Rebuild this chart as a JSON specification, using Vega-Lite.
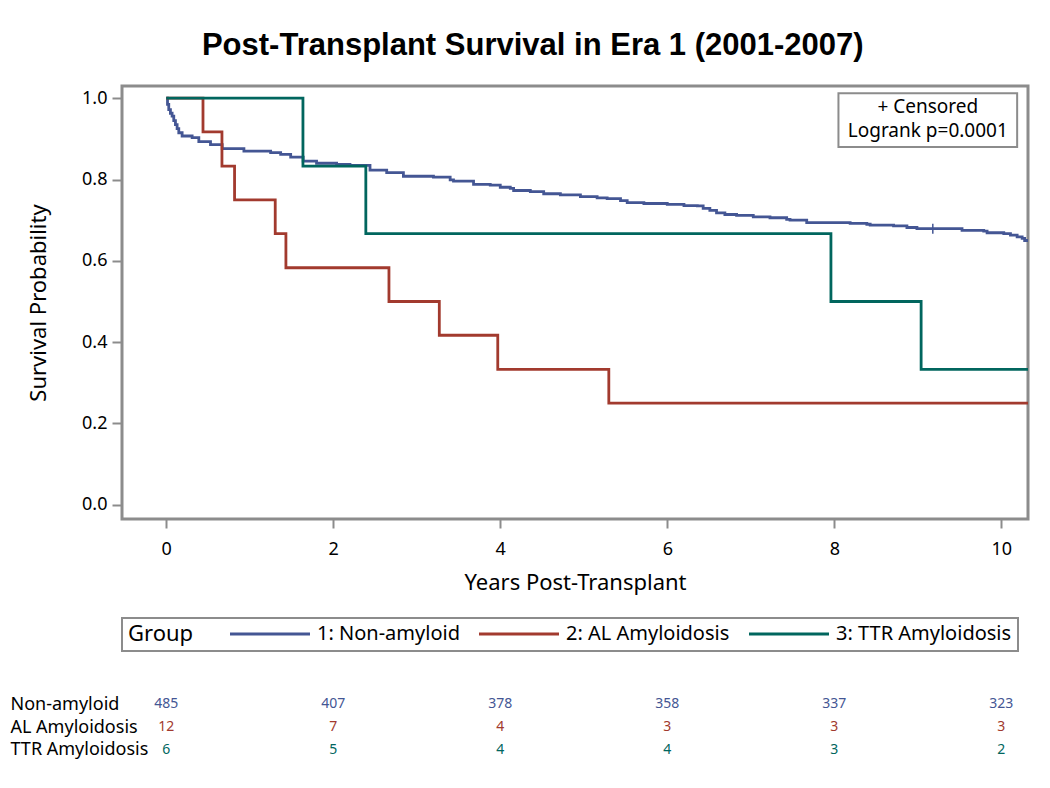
{
  "$schema": "https://vega.github.io/schema/vega-lite/v6.json",
  "padding": {"left": 10, "top": 29, "right": 5, "bottom": 5},
  "background": "white",
  "title": {"text": "Post-Transplant Survival in Era 1 (2001-2007)", "font": "Liberation Sans", "fontSize": 31, "fontWeight": "bold", "color": "black", "anchor": "middle", "offset": 23, "dx": 13},
  "config": {
    "font": "Noto Sans",
    "view": {"stroke": "#8c8c8c", "strokeWidth": 3},
    "axis": {"grid": false, "domain": false, "tickColor": "#8c8c8c", "tickWidth": 2, "labelColor": "black", "titleColor": "black", "titleFontWeight": "normal", "labelFont": "Noto Sans", "titleFont": "Noto Sans"},
    "legend": {"strokeWidth": 2}
  },
  "datasets": {
    "km": [
      {"g": "1: Non-amyloid", "t": 0, "s": 1.0},
      {"g": "1: Non-amyloid", "t": 0.015, "s": 0.985},
      {"g": "1: Non-amyloid", "t": 0.03, "s": 0.972},
      {"g": "1: Non-amyloid", "t": 0.05, "s": 0.963},
      {"g": "1: Non-amyloid", "t": 0.07, "s": 0.956},
      {"g": "1: Non-amyloid", "t": 0.09, "s": 0.945},
      {"g": "1: Non-amyloid", "t": 0.11, "s": 0.935},
      {"g": "1: Non-amyloid", "t": 0.13, "s": 0.925},
      {"g": "1: Non-amyloid", "t": 0.15, "s": 0.915},
      {"g": "1: Non-amyloid", "t": 0.19, "s": 0.907},
      {"g": "1: Non-amyloid", "t": 0.31, "s": 0.903},
      {"g": "1: Non-amyloid", "t": 0.39, "s": 0.893},
      {"g": "1: Non-amyloid", "t": 0.53, "s": 0.886},
      {"g": "1: Non-amyloid", "t": 0.67, "s": 0.876},
      {"g": "1: Non-amyloid", "t": 0.93, "s": 0.870},
      {"g": "1: Non-amyloid", "t": 1.25, "s": 0.866},
      {"g": "1: Non-amyloid", "t": 1.37, "s": 0.862},
      {"g": "1: Non-amyloid", "t": 1.49, "s": 0.855},
      {"g": "1: Non-amyloid", "t": 1.64, "s": 0.845},
      {"g": "1: Non-amyloid", "t": 1.80, "s": 0.840},
      {"g": "1: Non-amyloid", "t": 2.04, "s": 0.837},
      {"g": "1: Non-amyloid", "t": 2.20, "s": 0.835},
      {"g": "1: Non-amyloid", "t": 2.44, "s": 0.823},
      {"g": "1: Non-amyloid", "t": 2.64, "s": 0.817},
      {"g": "1: Non-amyloid", "t": 2.84, "s": 0.808},
      {"g": "1: Non-amyloid", "t": 3.20, "s": 0.806},
      {"g": "1: Non-amyloid", "t": 3.40, "s": 0.799},
      {"g": "1: Non-amyloid", "t": 3.44, "s": 0.796},
      {"g": "1: Non-amyloid", "t": 3.68, "s": 0.788},
      {"g": "1: Non-amyloid", "t": 3.88, "s": 0.786},
      {"g": "1: Non-amyloid", "t": 4.00, "s": 0.781},
      {"g": "1: Non-amyloid", "t": 4.12, "s": 0.778},
      {"g": "1: Non-amyloid", "t": 4.16, "s": 0.773},
      {"g": "1: Non-amyloid", "t": 4.36, "s": 0.770},
      {"g": "1: Non-amyloid", "t": 4.52, "s": 0.765},
      {"g": "1: Non-amyloid", "t": 4.72, "s": 0.762},
      {"g": "1: Non-amyloid", "t": 4.96, "s": 0.758},
      {"g": "1: Non-amyloid", "t": 5.16, "s": 0.755},
      {"g": "1: Non-amyloid", "t": 5.28, "s": 0.753},
      {"g": "1: Non-amyloid", "t": 5.44, "s": 0.748},
      {"g": "1: Non-amyloid", "t": 5.52, "s": 0.743},
      {"g": "1: Non-amyloid", "t": 5.72, "s": 0.741},
      {"g": "1: Non-amyloid", "t": 6.00, "s": 0.739},
      {"g": "1: Non-amyloid", "t": 6.20, "s": 0.736},
      {"g": "1: Non-amyloid", "t": 6.36, "s": 0.735},
      {"g": "1: Non-amyloid", "t": 6.43, "s": 0.729},
      {"g": "1: Non-amyloid", "t": 6.51, "s": 0.724},
      {"g": "1: Non-amyloid", "t": 6.59, "s": 0.718},
      {"g": "1: Non-amyloid", "t": 6.69, "s": 0.714},
      {"g": "1: Non-amyloid", "t": 6.83, "s": 0.712},
      {"g": "1: Non-amyloid", "t": 7.03, "s": 0.708},
      {"g": "1: Non-amyloid", "t": 7.23, "s": 0.706},
      {"g": "1: Non-amyloid", "t": 7.43, "s": 0.702},
      {"g": "1: Non-amyloid", "t": 7.47, "s": 0.700},
      {"g": "1: Non-amyloid", "t": 7.67, "s": 0.694},
      {"g": "1: Non-amyloid", "t": 8.19, "s": 0.692},
      {"g": "1: Non-amyloid", "t": 8.39, "s": 0.690},
      {"g": "1: Non-amyloid", "t": 8.43, "s": 0.688},
      {"g": "1: Non-amyloid", "t": 8.71, "s": 0.686},
      {"g": "1: Non-amyloid", "t": 8.87, "s": 0.682},
      {"g": "1: Non-amyloid", "t": 8.99, "s": 0.679},
      {"g": "1: Non-amyloid", "t": 9.53, "s": 0.675},
      {"g": "1: Non-amyloid", "t": 9.79, "s": 0.673},
      {"g": "1: Non-amyloid", "t": 9.83, "s": 0.669},
      {"g": "1: Non-amyloid", "t": 10.03, "s": 0.667},
      {"g": "1: Non-amyloid", "t": 10.11, "s": 0.663},
      {"g": "1: Non-amyloid", "t": 10.19, "s": 0.659},
      {"g": "1: Non-amyloid", "t": 10.25, "s": 0.655},
      {"g": "1: Non-amyloid", "t": 10.28, "s": 0.650},
      {"g": "1: Non-amyloid", "t": 10.4, "s": 0.650},
      {"g": "2: AL Amyloidosis", "t": 0, "s": 1.0},
      {"g": "2: AL Amyloidosis", "t": 0.44, "s": 0.917},
      {"g": "2: AL Amyloidosis", "t": 0.667, "s": 0.833},
      {"g": "2: AL Amyloidosis", "t": 0.818, "s": 0.75},
      {"g": "2: AL Amyloidosis", "t": 1.305, "s": 0.667},
      {"g": "2: AL Amyloidosis", "t": 1.433, "s": 0.583},
      {"g": "2: AL Amyloidosis", "t": 2.667, "s": 0.5},
      {"g": "2: AL Amyloidosis", "t": 3.27, "s": 0.417},
      {"g": "2: AL Amyloidosis", "t": 3.97, "s": 0.333},
      {"g": "2: AL Amyloidosis", "t": 5.3, "s": 0.25},
      {"g": "2: AL Amyloidosis", "t": 10.4, "s": 0.25},
      {"g": "3: TTR Amyloidosis", "t": 0, "s": 1.0},
      {"g": "3: TTR Amyloidosis", "t": 1.637, "s": 0.833},
      {"g": "3: TTR Amyloidosis", "t": 2.39, "s": 0.667},
      {"g": "3: TTR Amyloidosis", "t": 7.96, "s": 0.5},
      {"g": "3: TTR Amyloidosis", "t": 9.04, "s": 0.333},
      {"g": "3: TTR Amyloidosis", "t": 10.4, "s": 0.333}
    ],
    "censor": [{"t": 9.18, "s": 0.679}],
    "box": [{"x1": 8.05, "x2": 10.19, "y1": 0.88, "y2": 1.012}],
    "note": [
      {"t": 9.12, "s": 0.978, "label": "+ Censored"},
      {"t": 9.12, "s": 0.919, "label": "Logrank p=0.0001"}
    ],
    "risk": [
      {"row": "Non-amyloid", "g": "1: Non-amyloid", "t": 0, "n": 485},
      {"row": "Non-amyloid", "g": "1: Non-amyloid", "t": 2, "n": 407},
      {"row": "Non-amyloid", "g": "1: Non-amyloid", "t": 4, "n": 378},
      {"row": "Non-amyloid", "g": "1: Non-amyloid", "t": 6, "n": 358},
      {"row": "Non-amyloid", "g": "1: Non-amyloid", "t": 8, "n": 337},
      {"row": "Non-amyloid", "g": "1: Non-amyloid", "t": 10, "n": 323},
      {"row": "AL Amyloidosis", "g": "2: AL Amyloidosis", "t": 0, "n": 12},
      {"row": "AL Amyloidosis", "g": "2: AL Amyloidosis", "t": 2, "n": 7},
      {"row": "AL Amyloidosis", "g": "2: AL Amyloidosis", "t": 4, "n": 4},
      {"row": "AL Amyloidosis", "g": "2: AL Amyloidosis", "t": 6, "n": 3},
      {"row": "AL Amyloidosis", "g": "2: AL Amyloidosis", "t": 8, "n": 3},
      {"row": "AL Amyloidosis", "g": "2: AL Amyloidosis", "t": 10, "n": 3},
      {"row": "TTR Amyloidosis", "g": "3: TTR Amyloidosis", "t": 0, "n": 6},
      {"row": "TTR Amyloidosis", "g": "3: TTR Amyloidosis", "t": 2, "n": 5},
      {"row": "TTR Amyloidosis", "g": "3: TTR Amyloidosis", "t": 4, "n": 4},
      {"row": "TTR Amyloidosis", "g": "3: TTR Amyloidosis", "t": 6, "n": 4},
      {"row": "TTR Amyloidosis", "g": "3: TTR Amyloidosis", "t": 8, "n": 3},
      {"row": "TTR Amyloidosis", "g": "3: TTR Amyloidosis", "t": 10, "n": 2}
    ]
  },
  "vconcat": [
    {
      "width": 906,
      "height": 433,
      "layer": [
        {
          "data": {"name": "km"},
          "mark": {"type": "line", "interpolate": "step-after", "strokeWidth": 2.8, "clip": true},
          "encoding": {
            "x": {"field": "t", "type": "quantitative", "scale": {"domain": [-0.53, 10.32], "nice": false, "zero": false},
                  "axis": {"title": "Years Post-Transplant", "values": [0, 2, 4, 6, 8, 10], "format": "d", "labelFontSize": 18, "titleFontSize": 22, "tickSize": 9, "labelPadding": 12, "titlePadding": 14}},
            "y": {"field": "s", "type": "quantitative", "scale": {"domain": [-0.035, 1.03], "nice": false, "zero": false},
                  "axis": {"title": "Survival Probability", "values": [0, 0.2, 0.4, 0.6, 0.8, 1.0], "format": ".1f", "labelFontSize": 18, "titleFontSize": 22, "tickSize": 10, "labelPadding": 5, "titlePadding": 31}},
            "color": {"field": "g", "type": "nominal",
                      "scale": {"domain": ["1: Non-amyloid", "2: AL Amyloidosis", "3: TTR Amyloidosis"], "range": ["#445694", "#A23A2E", "#01665E"]},
                      "legend": {"orient": "none", "legendX": 0, "legendY": 532, "direction": "horizontal", "title": "Group", "titleOrient": "left", "titleFontSize": 22, "titleFontWeight": "normal", "titleColor": "black", "titlePadding": 66, "labelFontSize": 20, "labelColor": "black", "symbolType": "M-16,0L16,0", "symbolSize": 25, "symbolStrokeWidth": 3, "labelOffset": 37, "columnPadding": 13, "strokeColor": "#8c8c8c", "padding": 6, "fillColor": "white", "labelLimit": 400}}
          }
        },
        {
          "data": {"name": "censor"},
          "mark": {"type": "point", "shape": "M-1,0L1,0M0,-1L0,1", "size": 100, "filled": false, "strokeWidth": 1.5, "color": "#445694", "opacity": 1},
          "encoding": {"x": {"field": "t", "type": "quantitative"}, "y": {"field": "s", "type": "quantitative"}}
        },
        {
          "data": {"name": "box"},
          "mark": {"type": "rect", "fill": "white", "stroke": "#8c8c8c", "strokeWidth": 2},
          "encoding": {"x": {"field": "x1", "type": "quantitative"}, "x2": {"field": "x2"}, "y": {"field": "y1", "type": "quantitative"}, "y2": {"field": "y2"}}
        },
        {
          "data": {"name": "note"},
          "mark": {"type": "text", "fontSize": 19, "align": "center", "baseline": "middle", "color": "black"},
          "encoding": {"x": {"field": "t", "type": "quantitative"}, "y": {"field": "s", "type": "quantitative"}, "text": {"field": "label"}}
        }
      ]
    },
    {
      "width": 906,
      "height": 68,
      "view": {"stroke": null},
      "data": {"name": "risk"},
      "mark": {"type": "text", "fontSize": 14},
      "encoding": {
        "x": {"field": "t", "type": "quantitative", "scale": {"domain": [-0.53, 10.32], "nice": false, "zero": false}, "axis": null},
        "y": {"field": "row", "type": "nominal", "sort": ["Non-amyloid", "AL Amyloidosis", "TTR Amyloidosis"], "scale": {"type": "point", "padding": 0.5},
              "axis": {"title": null, "labelAlign": "left", "labelPadding": 112, "ticks": false, "tickSize": 0, "domain": false, "labelFontSize": 18}},
        "color": {"field": "g", "type": "nominal", "scale": {"domain": ["1: Non-amyloid", "2: AL Amyloidosis", "3: TTR Amyloidosis"], "range": ["#445694", "#A23A2E", "#01665E"]}, "legend": null},
        "text": {"field": "n", "type": "quantitative"}
      }
    }
  ],
  "spacing": 39,
  "resolve": {"scale": {"color": "independent"}, "legend": {"color": "independent"}}
}
